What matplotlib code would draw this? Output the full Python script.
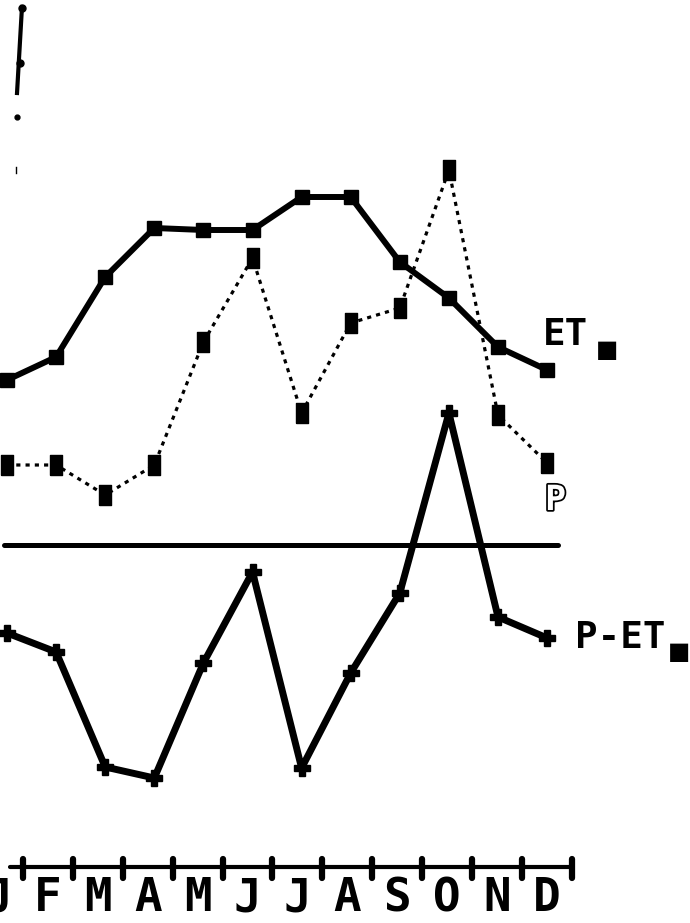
import numpy as np
import matplotlib
matplotlib.use("Agg")
import matplotlib.pyplot as plt
import matplotlib.patheffects as pe

# %% data (mm per month)
months = ['J', 'F', 'M', 'A', 'M', 'J', 'J', 'A', 'S', 'O', 'N', 'D']
et0 = [82.5, 94, 134, 158.5, 157.5, 157.5, 174, 174, 141.5, 123.5, 99, 87.5]
precip = [40, 40, 25, 40, 101.5, 143.5, 66, 111, 118.5, 187.5, 65, 41]
p_minus_et0 = [-44, -53.5, -111, -116.5, -59, -13.5, -111.5, -64, -24, 66, -36, -46.5]

# leftover bit of the y axis at the top left
yaxis_x = [0.305, 0.204]
yaxis_y = [269, 226]

x = np.arange(len(months))

# %% figure, axes fill the whole canvas
fig = plt.figure(figsize=(6.9, 9.23), dpi=100)
ax = fig.add_axes([0, 0, 1, 1])
ax.set_xlim(-0.1426, 13.91)
ax.set_ylim(-189, 272.5)
ax.axis('off')

mono = 'DejaVu Sans Mono'

# P (dotted, tall square markers)
rect = [(-0.32, -0.5), (0.32, -0.5), (0.32, 0.5), (-0.32, 0.5), (-0.32, -0.5)]
ax.plot(x, precip, color='black', lw=2.3, linestyle=(0, (1.3, 1.6)),
        marker=rect, markersize=14, zorder=2)

# ET0 (thick solid, square markers)
ax.plot(x, et0, color='black', lw=4.3, marker='s', markersize=9.5,
        solid_joinstyle='round', zorder=3)

# P - ET0 (thick solid, plus markers)
ax.plot(x, p_minus_et0, color='black', lw=5, marker='P', markersize=11,
        solid_joinstyle='round', zorder=3)

# zero line
ax.plot([-0.06, 11.22], [0, 0], color='black', lw=3.6, solid_capstyle='round')

# month axis at the bottom
tick_pos = 0.326 + 1.016 * np.arange(12)
label_pos = tick_pos - 0.508
ax.plot([0.06, tick_pos[-1]], [-161, -161], color='black', lw=3,
        solid_capstyle='round')
ax.vlines(tick_pos, -166.5, -157, color='black', lw=4.5, capstyle='round')
for xp, m in zip(label_pos, months):
    ax.text(xp, -183, m, ha='center', va='baseline', fontsize=33,
            family=mono, weight='bold')

# y axis remnant
ax.plot(yaxis_x, yaxis_y, color='black', lw=3)
ax.plot([0.305, 0.265], [268.5, 241], 'o', color='black', markersize=5)
ax.plot([0.204], [214], 'o', color='black', markersize=3.5)
ax.plot([0.18, 0.18], [186, 189], color='black', lw=1)

# series labels
ax.text(10.92, 100, 'ET', ha='left', va='baseline', fontsize=27,
        family=mono, weight='bold')
ax.text(12.0, 94, '\u25a0', ha='left', va='baseline', fontsize=17,
        family='DejaVu Sans')

ax.text(10.96, 17.5, 'P', ha='left', va='baseline', fontsize=25,
        family=mono, weight='bold', color='white',
        path_effects=[pe.withStroke(linewidth=2.5, foreground='black')])

ax.text(11.57, -51.5, 'P-ET', ha='left', va='baseline', fontsize=27,
        family=mono, weight='bold')
ax.text(13.45, -57, '\u25a0', ha='left', va='baseline', fontsize=17,
        family='DejaVu Sans')

fig.savefig('out.png', dpi=100, facecolor='white')
